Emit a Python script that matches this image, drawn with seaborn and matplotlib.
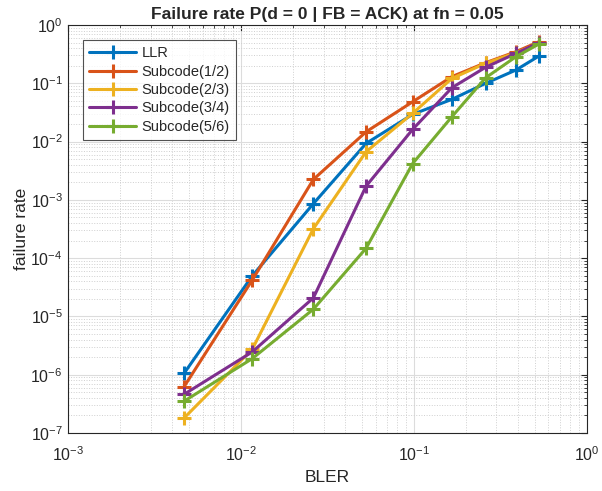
import numpy as np
import pandas as pd
import seaborn as sns
import matplotlib
matplotlib.use('Agg')
import matplotlib.pyplot as plt
from matplotlib.ticker import LogLocator, NullFormatter

# ------------------- Data -------------------
bler = [0.00467, 0.0116, 0.0262, 0.0529, 0.0984, 0.166, 0.260, 0.390, 0.530]

llr = [1.05e-6, 4.96e-5, 8.6e-4, 9.3e-3, 0.0293, 0.053, 0.0997, 0.169, 0.294]
sub_12 = [6.2e-7, 4.2e-5, 2.24e-3, 0.0147, 0.0482, 0.130, 0.225, 0.348, 0.517]
sub_23 = [1.8e-7, 2.73e-6, 3.2e-4, 6.7e-3, 0.0305, 0.121, 0.220, 0.335, 0.484]
sub_34 = [4.6e-7, 2.46e-6, 2.08e-5, 1.72e-3, 0.0162, 0.0839, 0.188, 0.326, 0.497]
sub_56 = [3.5e-7, 1.89e-6, 1.33e-5, 1.48e-4, 4.2e-3, 0.0267, 0.124, 0.286, 0.472]

names = ['LLR', 'Subcode(1/2)', 'Subcode(2/3)', 'Subcode(3/4)', 'Subcode(5/6)']
colors = ['#0072BD', '#D95319', '#EDB120', '#7E2F8E', '#77AC30']

rows = []
for name, vals in zip(names, [llr, sub_12, sub_23, sub_34, sub_56]):
    for b, v in zip(bler, vals):
        rows.append({'BLER': b, 'rate': v, 'scheme': name})
df = pd.DataFrame(rows)

# ------------------- Style -------------------
sns.set_style('white')
plt.rcParams['font.family'] = ['Liberation Sans', 'DejaVu Sans']
plt.rcParams['mathtext.default'] = 'regular'

fig = plt.figure(figsize=(6.02, 4.91), dpi=100)
ax = fig.add_axes([0.1135, 0.1181, 0.861, 0.831])

sns.lineplot(data=df, x='BLER', y='rate', hue='scheme', hue_order=names,
             palette=colors, marker='+', markersize=10, linewidth=2.2,
             legend=False, ax=ax)
for line, c in zip(ax.lines, colors):
    line.set_markeredgecolor(c)
    line.set_markeredgewidth(2.2)

ax.set_xscale('log')
ax.set_yscale('log')
ax.set_xlim(1e-3, 1)
ax.set_ylim(1e-7, 1)

ax.xaxis.set_major_locator(LogLocator(base=10, numticks=10))
ax.yaxis.set_major_locator(LogLocator(base=10, numticks=10))
ax.xaxis.set_minor_locator(LogLocator(base=10, subs=np.arange(2, 10), numticks=20))
ax.yaxis.set_minor_locator(LogLocator(base=10, subs=np.arange(2, 10), numticks=20))
ax.xaxis.set_minor_formatter(NullFormatter())
ax.yaxis.set_minor_formatter(NullFormatter())

ax.grid(True, which='major', color='#dcdcdc', linestyle='-', linewidth=0.8)
ax.grid(True, which='minor', color='#cfcfcf', linestyle=':', linewidth=0.7)
ax.set_axisbelow(True)

ax.tick_params(which='both', direction='in', top=True, right=True,
               colors='#262626', labelsize=11.5)
ax.tick_params(which='major', length=4)
ax.tick_params(which='minor', length=2)
ax.tick_params(axis='x', which='major', pad=8.5)
ax.tick_params(axis='y', which='major', pad=4)
for s in ax.spines.values():
    s.set_color('#262626')
    s.set_linewidth(0.8)

ax.set_title('Failure rate P(d = 0 | FB = ACK) at fn = 0.05',
             fontsize=12.5, fontweight='bold', pad=4)
ax.set_xlabel('BLER', fontsize=12.5, color='#262626', labelpad=5)
ax.set_ylabel('failure rate', fontsize=12.5, color='#262626', labelpad=1)

leg = ax.legend(ax.lines, names, loc='upper left', fontsize=10.5,
                bbox_to_anchor=(0.015, 0.98), frameon=True, fancybox=False,
                handlelength=3.2, handletextpad=0.4, borderpad=0.4,
                labelspacing=0.3)
leg.get_frame().set_edgecolor('#262626')
leg.get_frame().set_linewidth(0.8)

fig.savefig('out.png', dpi=100)
